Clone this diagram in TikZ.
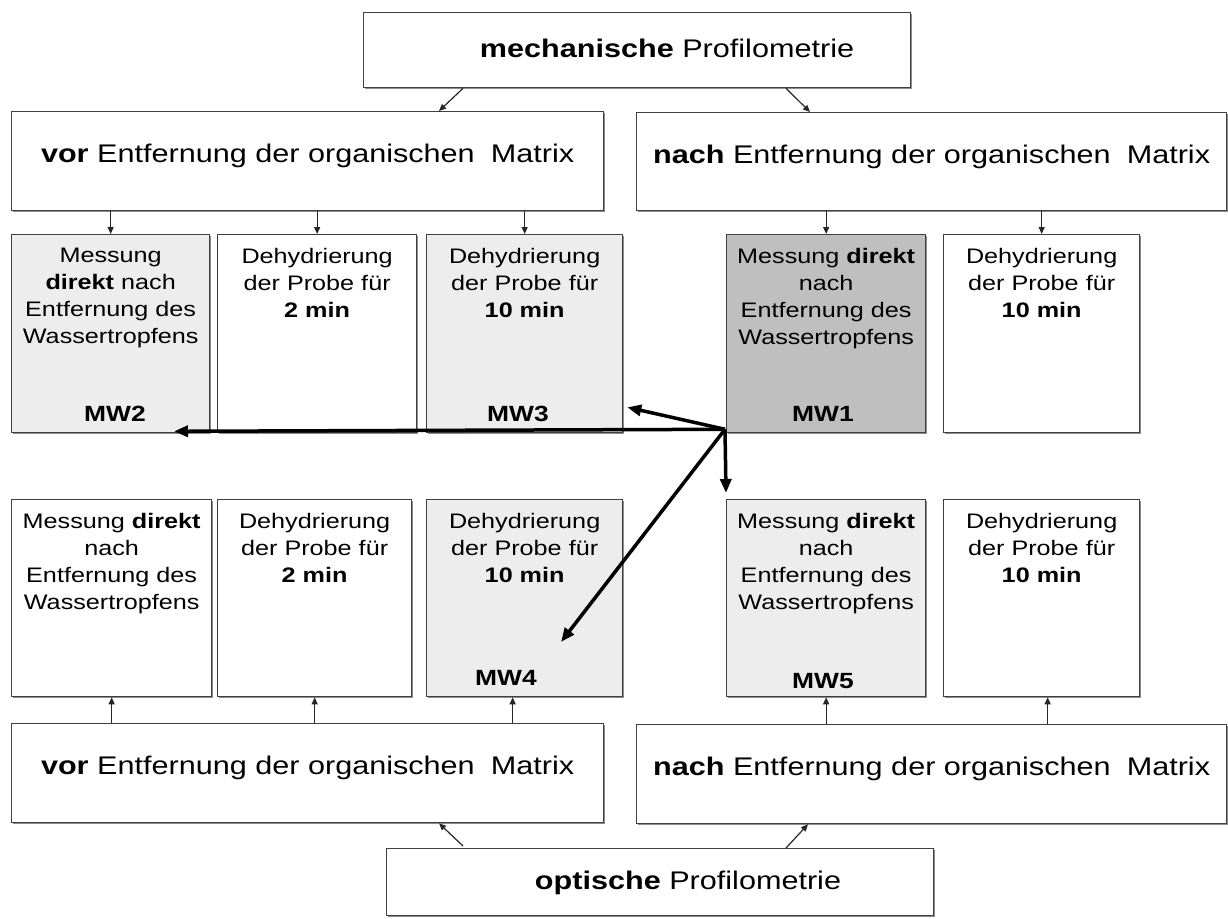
\documentclass[tikz,border=0pt]{standalone}
\usepackage{fontspec}
\setmainfont{Liberation Sans}[FakeStretch=1.2]
\usetikzlibrary{calc,arrows.meta,shadows}
\begin{document}
\begin{tikzpicture}[x=1pt,y=-1pt,
  box/.style={draw=black!75, line width=1.3pt, fill=white, anchor=north west, inner sep=0pt,
    drop shadow={shadow xshift=1.3pt,shadow yshift=-1.3pt,fill=black!45,opacity=1}},
  light/.style={fill=black!7},
  dark/.style={fill=black!25},
  bigtxt/.style={font=\fontsize{25.5}{30}\selectfont, inner sep=0pt},
  smalltxt/.style={font=\fontsize{21}{27}\selectfont, align=center, inner sep=0pt, anchor=north},
  mwtxt/.style={font=\fontsize{22}{26}\selectfont\bfseries, inner sep=0pt},
  thinarrow/.style={draw=black!85, line width=1.2pt, -{Triangle[length=7pt,width=6pt]}},
  thickarrow/.style={draw=black, line width=3.5pt, -{Triangle[length=14pt,width=11pt]}}
]
\useasboundingbox (0,0) rectangle (1228,918);
% big boxes
\node[box, minimum width=547pt, minimum height=75pt] (mech) at (363,12) {};
\node[box, minimum width=592pt, minimum height=99pt] (vorT) at (11,111) {};
\node[box, minimum width=590pt, minimum height=98pt] (nachT) at (636,112) {};
\node[box, minimum width=592pt, minimum height=99pt] (vorB) at (11,723) {};
\node[box, minimum width=590pt, minimum height=99pt] (nachB) at (636,724) {};
\node[box, minimum width=547pt, minimum height=67pt] (opt) at (386,848) {};
% big texts
\node[bigtxt] (mechT) at ($(mech.north west)+(304,36)$) {\textbf{mechanische} Profilometrie};
\node[bigtxt] (optT) at ($(opt.north west)+(302,35)$) {\textbf{optische} Profilometrie};
\node[bigtxt] (vorTt) at ($(vorT.center)+(0,-5)$) {\textbf{vor} Entfernung der organischen\hspace{0.3em} Matrix};
\node[bigtxt] (nachTt) at ($(nachT.center)+(0,-5)$) {\textbf{nach} Entfernung der organischen\hspace{0.3em} Matrix};
\node[bigtxt] (vorBt) at ($(vorB.center)+(0,-5)$) {\textbf{vor} Entfernung der organischen\hspace{0.3em} Matrix};
\node[bigtxt] (nachBt) at ($(nachB.center)+(0,-5)$) {\textbf{nach} Entfernung der organischen\hspace{0.3em} Matrix};
% row 1 small boxes
\node[box, light, minimum width=198pt, minimum height=198pt] (b1) at (11,234) {};
\node[box, minimum width=199pt, minimum height=198pt] (b2) at (217,234) {};
\node[box, light, minimum width=196pt, minimum height=198pt] (b3) at (426,234) {};
\node[box, dark, minimum width=199pt, minimum height=198pt] (m1) at (726,234) {};
\node[box, minimum width=196pt, minimum height=198pt] (b5) at (943,234) {};
% row 2 small boxes
\node[box, minimum width=200pt, minimum height=197pt] (c1) at (11,499) {};
\node[box, minimum width=194pt, minimum height=197pt] (c2) at (217,499) {};
\node[box, light, minimum width=196pt, minimum height=197pt] (c3) at (426,499) {};
\node[box, light, minimum width=199pt, minimum height=197pt] (c4) at (726,499) {};
\node[box, minimum width=196pt, minimum height=197pt] (c5) at (943,499) {};
% row 1 texts
\node[smalltxt] (b1t) at ($(b1.north)+(0,14)$) {Messung\\\textbf{direkt} nach\\Entfernung des\\Wassertropfens};
\node[smalltxt] (b2t) at ($(b2.north)+(0,14)$) {Dehydrierung\\der Probe für\\\textbf{2 min}};
\node[smalltxt] (b3t) at ($(b3.north)+(0,14)$) {Dehydrierung\\der Probe für\\\textbf{10 min}};
\node[smalltxt] (m1t) at ($(m1.north)+(0,14)$) {Messung \textbf{direkt}\\nach\\Entfernung des\\Wassertropfens};
\node[smalltxt] (b5t) at ($(b5.north)+(0,14)$) {Dehydrierung\\der Probe für\\\textbf{10 min}};
% row 2 texts
\node[smalltxt] (c1t) at ($(c1.north)+(0,14)$) {Messung \textbf{direkt}\\nach\\Entfernung des\\Wassertropfens};
\node[smalltxt] (c2t) at ($(c2.north)+(0,14)$) {Dehydrierung\\der Probe für\\\textbf{2 min}};
\node[smalltxt] (c3t) at ($(c3.north)+(0,14)$) {Dehydrierung\\der Probe für\\\textbf{10 min}};
\node[smalltxt] (c4t) at ($(c4.north)+(0,14)$) {Messung \textbf{direkt}\\nach\\Entfernung des\\Wassertropfens};
\node[smalltxt] (c5t) at ($(c5.north)+(0,14)$) {Dehydrierung\\der Probe für\\\textbf{10 min}};
% MW labels
\node[mwtxt] (mw2) at ($(b1.south west)+(104,-19)$) {MW2};
\node[mwtxt] (mw3) at ($(b3.south west)+(92,-19)$) {MW3};
\node[mwtxt] (mw1) at ($(m1.south west)+(97,-19)$) {MW1};
\node[mwtxt] (mw4) at ($(c3.south west)+(80,-19)$) {MW4};
\node[mwtxt] (mw5) at ($(c4.south west)+(97,-16)$) {MW5};
% thin arrows
\draw[thinarrow] ($(mech.south west)+(100,0)$) -- ($(vorT.north west)+(428,0)$);
\draw[thinarrow] ($(mech.south west)+(423,0)$) -- ($(nachT.north west)+(174,0)$);
\draw[thinarrow] ($(opt.north west)+(77,-2)$) -- ($(vorB.south west)+(428,0)$);
\draw[thinarrow] ($(opt.north west)+(400,0)$) -- ($(nachB.south west)+(172,0)$);
\foreach \b in {b1,b2,b3,m1,b5}{
  \draw[thinarrow] (\b.north |- vorT.south) -- (\b.north);
}
\coordinate (c3a) at ($(c3.south)+(-12,0)$);
\coordinate (c5a) at ($(c5.south)+(6,0)$);
\draw[thinarrow] (c1.south |- vorB.north) -- (c1.south);
\draw[thinarrow] (c2.south |- vorB.north) -- (c2.south);
\draw[thinarrow] (c3a |- vorB.north) -- (c3a);
\draw[thinarrow] (c4.south |- nachB.north) -- (c4.south);
\draw[thinarrow] (c5a |- nachB.north) -- (c5a);
% thick arrows
\coordinate (hub) at ($(m1.south west)+(-1,-4)$);
\draw[thickarrow] (hub) -- ($(b1.south west)+(163,-2)$);
\draw[thickarrow] (hub) -- ($(b3.south east)+(4,-26)$);
\draw[thickarrow] (hub) -- ($(c4.north west)+(0,-6)$);
\draw[thickarrow] (hub) -- ($(c3.north west)+(135,143)$);
\end{tikzpicture}
\end{document}
